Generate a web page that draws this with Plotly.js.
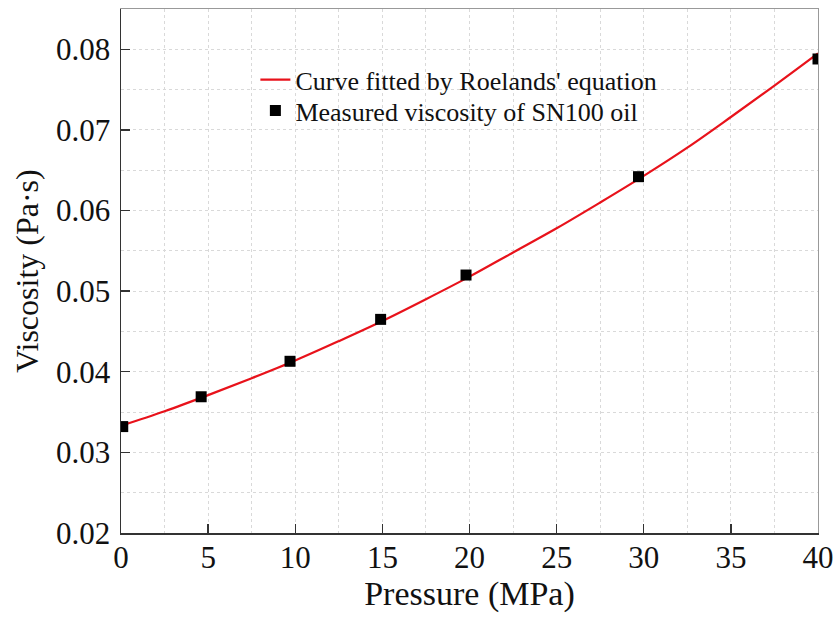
<!DOCTYPE html>
<html>
<head>
<meta charset="utf-8">
<script src="https://cdn.plot.ly/plotly-3.0.1.min.js"></script>
<style>
  html, body { margin: 0; padding: 0; background: #fff; }
  #chart { width: 839px; height: 617px; }
</style>
</head>
<body>
<div id="chart"></div>
<script>
// Roelands fit, sampled along the pressure axis (MPa -> Pa·s)
const fitPressure  = [0, 2.5, 5, 7.5, 10, 12.5, 15, 17.5, 20, 22.5, 25, 27.5, 30, 32.5, 35, 37.5, 40];
const fitViscosity = [0.0333, 0.0351, 0.0371, 0.0392, 0.0414, 0.0438, 0.0463, 0.0490, 0.0518,
                      0.0548, 0.0578, 0.0610, 0.0643, 0.0678, 0.0716, 0.0755, 0.0795];

// Measured SN100 oil viscosity
const measPressure  = [0.1, 4.6, 9.7, 14.9, 19.8, 29.7, 40.0];
const measViscosity = [0.0332, 0.0369, 0.0413, 0.0465, 0.0520, 0.0642, 0.0788];

const xTicks = [0, 5, 10, 15, 20, 25, 30, 35, 40];
const yTicks = [0.02, 0.03, 0.04, 0.05, 0.06, 0.07, 0.08];

const serif = 'Liberation Serif';

const traces = [
  {
    x: fitPressure, y: fitViscosity,
    type: 'scatter', mode: 'lines',
    name: "Curve fitted by Roelands' equation",
    line: { color: '#e8121b', width: 2.2, shape: 'spline' },
    legend: 'legend'
  },
  {
    x: measPressure, y: measViscosity,
    type: 'scatter', mode: 'markers',
    name: 'Measured viscosity of SN100 oil',
    marker: { symbol: 'square', size: 11, color: '#000' },
    legend: 'legend2'
  }
];

const axisCommon = {
  showgrid: false,
  zeroline: false,
  showline: true,
  linecolor: '#333',
  linewidth: 1.5,
  ticks: 'inside',
  ticklen: 9,
  tickwidth: 1.3,
  tickcolor: '#333',
  tickfont: { family: serif, size: 31, color: '#111' },
  automargin: false
};

// each legend entry gets its own box so the two rows can be spaced freely
const legendCommon = {
  xanchor: 'left', yanchor: 'top',
  bgcolor: 'rgba(0,0,0,0)',
  font: { family: serif, size: 26, color: '#111' },
  itemwidth: 30
};

const layout = {
  width: 839, height: 617,
  margin: { l: 121, r: 21, t: 9, b: 84 },
  font: { family: serif, color: '#111' },
  paper_bgcolor: '#fff',
  plot_bgcolor: '#fff',
  showlegend: true,
  legend: Object.assign({ x: 0.1928, y: 0.91 }, legendCommon),
  legend2: Object.assign({ x: 0.1928, y: 0.851 }, legendCommon),
  xaxis: Object.assign({}, axisCommon, {
    range: [0, 40],
    tickvals: xTicks,
    ticktext: xTicks.map(String),
    ticklabelstandoff: -4,
    minor: { dtick: 2.5, tick0: 0, showgrid: true, gridcolor: '#d9d9d9', griddash: 'dot', gridwidth: 1, ticks: '' },
    title: { text: 'Pressure (MPa)', font: { family: serif, size: 34, color: '#111' }, standoff: 0 }
  }),
  yaxis: Object.assign({}, axisCommon, {
    range: [0.02, 0.085],
    tickvals: yTicks,
    ticktext: yTicks.map(v => v.toFixed(2)),
    ticklabelstandoff: 3,
    minor: { dtick: 0.005, tick0: 0.02, showgrid: true, gridcolor: '#d9d9d9', griddash: 'dot', gridwidth: 1, ticks: '' },
    title: { text: 'Viscosity (Pa·s)', font: { family: serif, size: 32, color: '#111' }, standoff: 8 }
  }),
  // light frame along the top and right edges
  xaxis2: { overlaying: 'x', side: 'top', range: [0, 40], showline: true, linecolor: '#999', linewidth: 1,
            showticklabels: false, ticks: '', showgrid: false, zeroline: false },
  yaxis2: { overlaying: 'y', side: 'right', range: [0.02, 0.085], showline: true, linecolor: '#999', linewidth: 1,
            showticklabels: false, ticks: '', showgrid: false, zeroline: false }
};

// invisible carrier so the top/right frame axes are drawn
traces.push({ x: [0], y: [0.02], xaxis: 'x2', yaxis: 'y2', type: 'scatter', mode: 'markers',
              marker: { opacity: 0 }, showlegend: false, hoverinfo: 'skip' });

Plotly.newPlot('chart', traces, layout, { displayModeBar: false, staticPlot: true });
</script>
</body>
</html>
